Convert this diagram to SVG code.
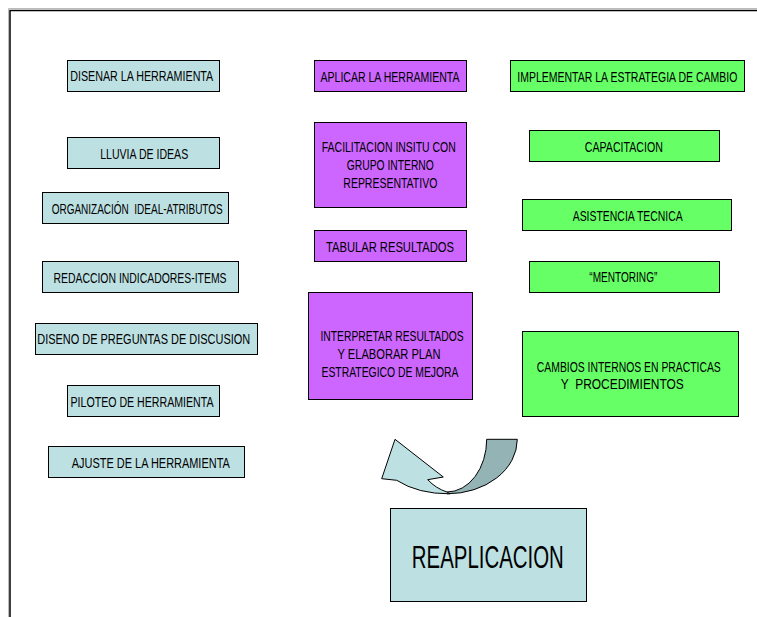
<svg xmlns="http://www.w3.org/2000/svg" width="757" height="617" viewBox="0 0 757 617">
<style>
.b{fill:#BDE1E3;stroke:#000;stroke-width:1}
.v{fill:#CC66FF;stroke:#000;stroke-width:1}
.g{fill:#66FF66;stroke:#000;stroke-width:1}
text{font-family:"Liberation Sans",Arial,sans-serif;font-size:14px;fill:#000;text-anchor:middle;white-space:pre}
.big{font-size:31px}
</style>
<rect width="757" height="617" fill="#fff"/>
<g id="frame">
<path d="M8.5,617 V8.5 H757" fill="none" stroke="#bbb" stroke-width="1"/>
<path d="M10,617 V10.5 H757" fill="none" stroke="#000" stroke-width="1.5"/>
</g>
<g id="n-disenar"><rect class="b" x="67.5" y="60.5" width="152" height="31"/><text transform="translate(141.7,80.5) scale(0.75,1)" textLength="190.7" lengthAdjust="spacingAndGlyphs">DISENAR LA HERRAMIENTA</text></g>
<g id="n-lluvia"><rect class="b" x="67.5" y="137.5" width="152" height="31"/><text transform="translate(144.2,158.5) scale(0.75,1)" textLength="117.3" lengthAdjust="spacingAndGlyphs">LLUVIA DE IDEAS</text></g>
<g id="n-organizacion"><rect class="b" x="42.5" y="192.5" width="186" height="31"/><text transform="translate(137.2,214) scale(0.75,1)" textLength="228" lengthAdjust="spacingAndGlyphs">ORGANIZACIÓN  IDEAL-ATRIBUTOS</text></g>
<g id="n-redaccion"><rect class="b" x="42.5" y="261.5" width="196" height="31"/><text transform="translate(140,282.7) scale(0.75,1)" textLength="230.7" lengthAdjust="spacingAndGlyphs">REDACCION INDICADORES-ITEMS</text></g>
<g id="n-diseno"><rect class="b" x="35.5" y="323.5" width="222" height="31"/><text transform="translate(143.7,344.3) scale(0.75,1)" textLength="284" lengthAdjust="spacingAndGlyphs">DISENO DE PREGUNTAS DE DISCUSION</text></g>
<g id="n-piloteo"><rect class="b" x="67.5" y="385.5" width="152" height="31"/><text transform="translate(142,406.7) scale(0.75,1)" textLength="190.7" lengthAdjust="spacingAndGlyphs">PILOTEO DE HERRAMIENTA</text></g>
<g id="n-ajuste"><rect class="b" x="48.5" y="446.5" width="196" height="31"/><text transform="translate(150.8,468.3) scale(0.75,1)" textLength="210.7" lengthAdjust="spacingAndGlyphs">AJUSTE DE LA HERRAMIENTA</text></g>

<g id="n-aplicar"><rect class="v" x="314.5" y="60.5" width="152" height="31"/><text transform="translate(390,81.5) scale(0.75,1)" textLength="185.3" lengthAdjust="spacingAndGlyphs">APLICAR LA HERRAMIENTA</text></g>
<g id="n-facilitacion"><rect class="v" x="314.5" y="122.5" width="152" height="85"/>
<text transform="translate(388.8,151.7) scale(0.75,1)" textLength="178.7" lengthAdjust="spacingAndGlyphs">FACILITACION INSITU CON</text>
<text transform="translate(390.3,170) scale(0.75,1)" textLength="116" lengthAdjust="spacingAndGlyphs">GRUPO INTERNO</text>
<text transform="translate(390.3,188.3) scale(0.75,1)" textLength="125.3" lengthAdjust="spacingAndGlyphs">REPRESENTATIVO</text></g>
<g id="n-tabular"><rect class="v" x="314.5" y="230.5" width="152" height="31"/><text transform="translate(390,251.5) scale(0.75,1)" textLength="170.7" lengthAdjust="spacingAndGlyphs">TABULAR RESULTADOS</text></g>
<g id="n-interpretar"><rect class="v" x="308.5" y="292.5" width="164" height="107"/>
<text transform="translate(392,341) scale(0.75,1)" textLength="190.7" lengthAdjust="spacingAndGlyphs">INTERPRETAR RESULTADOS</text>
<text transform="translate(389,359.3) scale(0.75,1)" textLength="137.3" lengthAdjust="spacingAndGlyphs">Y ELABORAR PLAN</text>
<text transform="translate(390,377.3) scale(0.75,1)" textLength="182.7" lengthAdjust="spacingAndGlyphs">ESTRATEGICO DE MEJORA</text></g>

<g id="n-implementar"><rect class="g" x="510.5" y="60.5" width="234" height="31"/><text transform="translate(627.3,81.5) scale(0.75,1)" textLength="293.3" lengthAdjust="spacingAndGlyphs">IMPLEMENTAR LA ESTRATEGIA DE CAMBIO</text></g>
<g id="n-capacitacion"><rect class="g" x="529.5" y="130.5" width="190" height="31"/><text transform="translate(623.8,151.7) scale(0.75,1)" textLength="104" lengthAdjust="spacingAndGlyphs">CAPACITACION</text></g>
<g id="n-asistencia"><rect class="g" x="522.5" y="199.5" width="209" height="31"/><text transform="translate(627.7,220.7) scale(0.75,1)" textLength="146.7" lengthAdjust="spacingAndGlyphs">ASISTENCIA TECNICA</text></g>
<g id="n-mentoring"><rect class="g" x="529.5" y="261.5" width="190" height="31"/><text transform="translate(623.3,282.3) scale(0.75,1)" textLength="90.7" lengthAdjust="spacingAndGlyphs">“MENTORING”</text></g>
<g id="n-cambios"><rect class="g" x="522.5" y="331.5" width="216" height="85"/>
<text transform="translate(628.8,371.7) scale(0.75,1)" textLength="245.3" lengthAdjust="spacingAndGlyphs">CAMBIOS INTERNOS EN PRACTICAS</text>
<text transform="translate(622.3,389.3) scale(0.75,1)" textLength="164" lengthAdjust="spacingAndGlyphs">Y  PROCEDIMIENTOS</text></g>

<g id="connectors">
<path d="M486.7,439.3 H517.3 A70,54.5 0 0 1 447,493.8 L447,492 A39.7,52.7 0 0 0 486.7,439.3 Z" fill="#93B3B5" stroke="#000" stroke-width="1"/>
<path d="M396.7,480.3 Q418,494 450,493.8 L447,492 Q436,488.5 427.7,479.7 L443.3,477 L395,439.3 L381.7,478.7 Z" fill="#BDE1E3" stroke="#000" stroke-width="1" stroke-linejoin="miter"/>
</g>

<g id="n-reaplicacion"><rect class="b" x="390.5" y="508.5" width="196" height="93"/><text class="big" transform="translate(487.8,568.3) scale(0.75,1)" textLength="202.7" lengthAdjust="spacingAndGlyphs">REAPLICACION</text></g>
</svg>
